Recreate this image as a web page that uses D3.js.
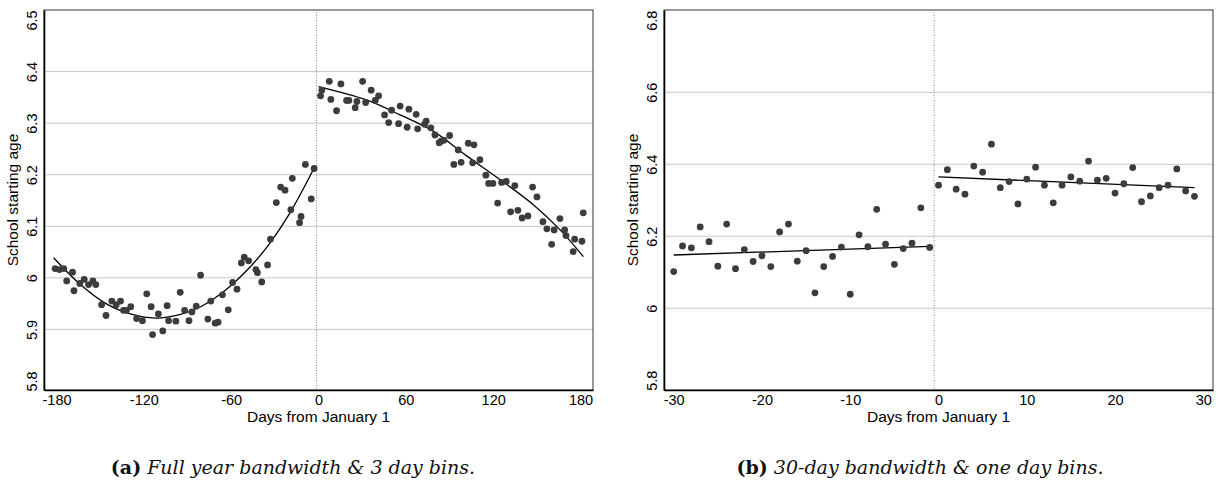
<!DOCTYPE html>
<html><head><meta charset="utf-8">
<script src="https://cdn.jsdelivr.net/npm/d3@7"></script>
<style>body{margin:0;background:#fff} svg{display:block}</style>
</head><body><svg id="c" width="1218" height="484"></svg>
<script>
// ---------- Panel (a): full year, 3-day bins ----------
const aPreDays = [-181,-178,-175,-173,-169,-168,-164,-161,-158,-155,-153,-149,-146,-142,-139,-136,-134,-132,-129,-125,-121,-118,-115,-114,-110,-107,-104,-103,-98,-95,-92,-89,-87,-84,-81,-76,-74,-71,-69,-66,-62,-59,-56,-53,-51,-48,-43,-42,-39,-35,-33,-29,-26,-23,-19,-18,-13,-12,-9,-5,-3];
const aPreAge = [6.018,6.016,6.018,5.994,6.011,5.975,5.989,5.997,5.987,5.994,5.987,5.948,5.927,5.955,5.948,5.955,5.937,5.937,5.944,5.921,5.917,5.969,5.944,5.890,5.930,5.897,5.946,5.917,5.916,5.972,5.937,5.917,5.934,5.945,6.005,5.920,5.955,5.912,5.914,5.967,5.938,5.991,5.978,6.029,6.040,6.033,6.016,6.010,5.992,6.025,6.075,6.146,6.176,6.170,6.132,6.193,6.107,6.119,6.220,6.153,6.212];
const aPostDays = [1.4,2.3,7.4,8.5,12.4,15.4,19.3,20.9,25.2,26.4,30.3,32.4,36.2,39.0,41.3,45.4,48.2,50.2,55.0,56.1,60.9,62.1,67.1,68.1,72.9,74.0,77.2,80.0,82.9,84.3,86.2,90.1,93.0,96.0,98.0,102.9,105.9,106.8,110.9,115.0,116.9,119.8,123.1,125.8,129.0,132.0,134.9,137.0,139.9,143.9,147.1,150.1,154.2,156.9,160.2,161.9,165.9,169.1,170.0,175.0,176.0,181.0,181.9];
const aPostAge = [6.353,6.364,6.381,6.346,6.324,6.376,6.344,6.344,6.330,6.342,6.381,6.340,6.364,6.344,6.353,6.316,6.301,6.325,6.299,6.333,6.292,6.327,6.317,6.289,6.298,6.304,6.291,6.277,6.262,6.265,6.267,6.276,6.220,6.248,6.224,6.261,6.223,6.258,6.229,6.199,6.183,6.183,6.145,6.185,6.187,6.128,6.179,6.131,6.116,6.120,6.176,6.157,6.109,6.095,6.065,6.093,6.115,6.093,6.082,6.051,6.075,6.071,6.126];
const aFitPreDays = [-182,-164,-146,-128,-112,-96,-81,-64,-48,-34,-20,-3];
const aFitPreAge = [6.039,5.988,5.950,5.929,5.922,5.928,5.944,5.976,6.018,6.065,6.124,6.213];
const aFitPostDays = [0,33,56,79,102,125,148,166,182];
const aFitPostAge = [6.371,6.345,6.316,6.284,6.236,6.190,6.141,6.093,6.041];
const aTicksX = [-180,-120,-60,0,60,120,180];
const aTicksY = [5.8,5.9,6,6.1,6.2,6.3,6.4,6.5];
const aCutoff = -1.3;

// ---------- Panel (b): 30-day bandwidth, 1-day bins ----------
const bPreDays = [-30,-29,-28,-27,-26,-25,-24,-23,-22,-21,-20,-19,-18,-17,-16,-15,-14,-13,-12,-11,-10,-9,-8,-7,-6,-5,-4,-3,-2,-1];
const bPreAge = [6.102,6.173,6.168,6.226,6.185,6.117,6.234,6.110,6.163,6.130,6.146,6.116,6.212,6.234,6.131,6.160,6.043,6.116,6.144,6.170,6.039,6.204,6.171,6.275,6.178,6.122,6.166,6.181,6.279,6.169];
const bPostDays = [0,1,2,3,4,5,6,7,8,9,10,11,12,13,14,15,16,17,18,19,20,21,22,23,24,25,26,27,28,29];
const bPostAge = [6.342,6.385,6.331,6.317,6.395,6.378,6.456,6.335,6.352,6.290,6.359,6.392,6.342,6.293,6.342,6.365,6.353,6.409,6.356,6.361,6.320,6.346,6.391,6.296,6.312,6.335,6.342,6.387,6.326,6.311];
const bFitPreDays = [-30,-1];
const bFitPreAge = [6.148,6.172];
const bFitPostDays = [0,29];
const bFitPostAge = [6.365,6.335];
const bTicksX = [-30,-20,-10,0,10,20,30];
const bTicksY = [5.8,6,6.2,6.4,6.6,6.8];
const bCutoff = -0.5;

const xTitle = "Days from January 1";
const yTitle = "School starting age";
const captionA = ["(a)", "Full year bandwidth & 3 day bins."];
const captionB = ["(b)", "30-day bandwidth & one day bins."];

const svg = d3.select("#c");
const FONT = "'Liberation Sans', Arial, sans-serif";

function panel(o) {
  const g = svg.append("g");
  const x = d3.scaleLinear().domain(o.xDom).range([o.left, o.right]);
  const y = d3.scaleLinear().domain(o.yDom).range([o.bottom, o.top]);
  g.selectAll("line.grid").data(o.ticksY.slice(1, -1)).enter().append("line")
    .attr("x1", o.left).attr("x2", o.right)
    .attr("y1", d => y(d)).attr("y2", d => y(d))
    .attr("stroke", "#c9c9c9").attr("stroke-width", 1);
  g.append("rect").attr("x", o.left).attr("y", o.top)
    .attr("width", o.right - o.left).attr("height", o.bottom - o.top)
    .attr("fill", "none").attr("stroke", "#333").attr("stroke-width", 1);
  g.append("line").attr("x1", x(o.cutoff)).attr("x2", x(o.cutoff))
    .attr("y1", o.top).attr("y2", o.bottom)
    .attr("stroke", "#8a8a8a").attr("stroke-width", 1).attr("stroke-dasharray", "1,1.5");
  const xAxis = d3.axisBottom(x).tickValues(o.ticksX).tickSize(0).tickPadding(0)
    .tickFormat(d => String(d));
  const gx = g.append("g").attr("transform", `translate(0,${o.bottom})`).call(xAxis);
  gx.attr("font-family", FONT).attr("font-size", 14.5);
  gx.select(".domain").attr("stroke", "#000").attr("stroke-width", 1.6);
  gx.selectAll("text").attr("y", 15).attr("dy", 0).attr("fill", "#000");
  const yAxis = d3.axisLeft(y).tickValues(o.ticksY).tickSize(0).tickPadding(0)
    .tickFormat(d => String(+d.toFixed(1)));
  const gy = g.append("g").attr("transform", `translate(${o.left},0)`).call(yAxis);
  gy.attr("font-family", FONT).attr("font-size", 14.5);
  gy.select(".domain").attr("stroke", "#000").attr("stroke-width", 1.6);
  gy.selectAll("text").attr("x", 0).attr("dy", 0).attr("fill", "#000")
    .attr("text-anchor", "middle")
    .attr("transform", "translate(-7,0) rotate(-90)");
  const line = d3.line().x(d => x(d[0])).y(d => y(d[1])).curve(d3.curveCatmullRom);
  [[o.fitPreDays, o.fitPreAge], [o.fitPostDays, o.fitPostAge]].forEach(([ds, vs]) => {
    g.append("path").datum(ds.map((d, i) => [d, vs[i]])).attr("d", line)
      .attr("fill", "none").attr("stroke", "#000").attr("stroke-width", 1.3);
  });
  const pts = o.preDays.map((d, i) => [d, o.preAge[i]])
    .concat(o.postDays.map((d, i) => [d, o.postAge[i]]));
  g.selectAll("circle").data(pts).enter().append("circle")
    .attr("cx", d => x(d[0])).attr("cy", d => y(d[1])).attr("r", 3.4)
    .attr("fill", "#3c3c3c");
  g.append("text").attr("x", (o.left + o.right) / 2).attr("y", 422)
    .attr("text-anchor", "middle").attr("font-family", FONT).attr("font-size", 15.5)
    .text(xTitle);
  g.append("text").attr("transform", `translate(${o.yTitleX},${(o.top + o.bottom) / 2}) rotate(-90)`)
    .attr("text-anchor", "middle").attr("font-family", FONT).attr("font-size", 15.5)
    .text(yTitle);
  const cap = g.append("text").attr("x", o.capX).attr("y", 474)
    .attr("text-anchor", "middle").attr("font-family", "'DejaVu Serif', 'Liberation Serif', serif")
    .attr("font-size", 19).attr("fill", "#111");
  cap.append("tspan").attr("font-weight", "bold").text(o.caption[0]);
  cap.append("tspan").attr("font-style", "italic").text(" " + o.caption[1]);
}

panel({
  left: 44, right: 593, top: 10, bottom: 390,
  xDom: [-188.6, 188.6], yDom: [5.7825, 6.5194],
  ticksX: aTicksX, ticksY: aTicksY, cutoff: aCutoff,
  preDays: aPreDays, preAge: aPreAge, postDays: aPostDays, postAge: aPostAge,
  fitPreDays: aFitPreDays, fitPreAge: aFitPreAge, fitPostDays: aFitPostDays, fitPostAge: aFitPostAge,
  yTitleX: 18, capX: 293, caption: captionA
});
panel({
  left: 664, right: 1213, top: 10, bottom: 390,
  xDom: [-31.1, 31.1], yDom: [5.773, 6.8286],
  ticksX: bTicksX, ticksY: bTicksY, cutoff: bCutoff,
  preDays: bPreDays, preAge: bPreAge, postDays: bPostDays, postAge: bPostAge,
  fitPreDays: bFitPreDays, fitPreAge: bFitPreAge, fitPostDays: bFitPostDays, fitPostAge: bFitPostAge,
  yTitleX: 638, capX: 920, caption: captionB
});
</script></body></html>
